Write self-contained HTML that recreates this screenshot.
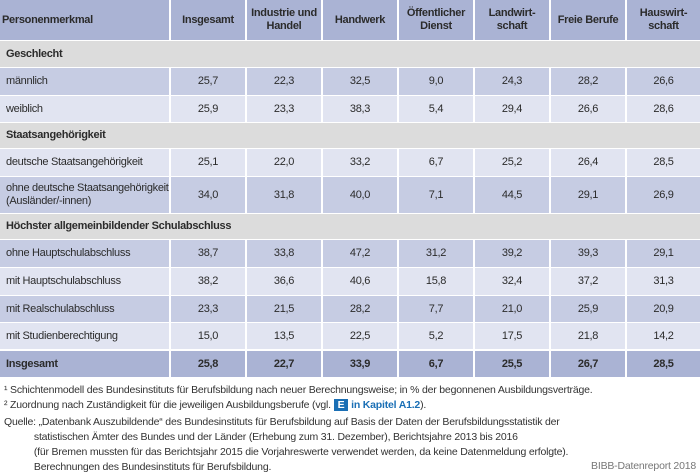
<!DOCTYPE html>
<html><head><meta charset="utf-8">
<style>
body{margin:0;width:700px;height:471px;background:#fff;position:relative;overflow:hidden;font-family:"Liberation Sans Narrow","Liberation Sans",sans-serif;color:#2b2b2b;}
.c{position:absolute;box-sizing:border-box;display:flex;align-items:center;justify-content:center;font-size:11px;line-height:13px;text-align:center;letter-spacing:-0.3px;white-space:nowrap;}
.l{justify-content:flex-start;padding-left:6px;text-align:left;}
.h{background:#aab3d4;font-weight:bold;padding:0 2px;}
.d{background:#c6cce3;}
.lt{background:#e1e4f1;}
.g{background:#dcdcdc;font-weight:bold;}
.t{background:#aab3d4;font-weight:bold;}
.f{position:absolute;left:4px;font-size:10.5px;white-space:nowrap;color:#333;letter-spacing:-0.2px;}
</style></head><body>
<div id="tbl"></div>
<div class="f" style="top:384px">¹ Schichtenmodell des Bundesinstituts für Berufsbildung nach neuer Berechnungsweise; in % der begonnenen Ausbildungsverträge.</div>
<div class="f" style="top:399px">² Zuordnung nach Zuständigkeit für die jeweiligen Ausbildungsberufe (vgl. <span style="background:#1a6fb5;color:#fff;font-weight:bold;padding:0 4px">E</span> <span style="color:#1a6fb5;font-weight:bold">in Kapitel A1.2</span>).</div>
<div class="f" style="top:415px;line-height:15px">Quelle: „Datenbank Auszubildende“ des Bundesinstituts für Berufsbildung auf Basis der Daten der Berufsbildungsstatistik der<br>&nbsp;&nbsp;&nbsp;&nbsp;&nbsp;&nbsp;&nbsp;&nbsp;&nbsp;&nbsp;&nbsp;statistischen Ämter des Bundes und der Länder (Erhebung zum 31. Dezember), Berichtsjahre 2013 bis 2016<br>&nbsp;&nbsp;&nbsp;&nbsp;&nbsp;&nbsp;&nbsp;&nbsp;&nbsp;&nbsp;&nbsp;(für Bremen mussten für das Berichtsjahr 2015 die Vorjahreswerte verwendet werden, da keine Datenmeldung erfolgte).<br>&nbsp;&nbsp;&nbsp;&nbsp;&nbsp;&nbsp;&nbsp;&nbsp;&nbsp;&nbsp;&nbsp;Berechnungen des Bundesinstituts für Berufsbildung.</div>
<div class="f" style="top:460px;left:auto;right:4px;color:#777">BIBB-Datenreport 2018</div>
<script>
const headers=["Personenmerkmal","Insgesamt","Industrie und<br>Handel","Handwerk","Öffentlicher<br>Dienst","Landwirt-<br>schaft","Freie Berufe","Hauswirt-<br>schaft"];
const rowLabels=["Geschlecht","männlich","weiblich","Staatsangehörigkeit","deutsche Staatsangehörigkeit","ohne deutsche Staatsangehörigkeit<br>(Ausländer/-innen)","Höchster allgemeinbildender Schulabschluss","ohne Hauptschulabschluss","mit Hauptschulabschluss","mit Realschulabschluss","mit Studienberechtigung","Insgesamt"];
const rowTypes=["g","d","lt","g","lt","d","g","d","lt","d","lt","t"];
const rowValues=[null,
["25,7","22,3","32,5","9,0","24,3","28,2","26,6"],
["25,9","23,3","38,3","5,4","29,4","26,6","28,6"],
null,
["25,1","22,0","33,2","6,7","25,2","26,4","28,5"],
["34,0","31,8","40,0","7,1","44,5","29,1","26,9"],
null,
["38,7","33,8","47,2","31,2","39,2","39,3","29,1"],
["38,2","36,6","40,6","15,8","32,4","37,2","31,3"],
["23,3","21,5","28,2","7,7","21,0","25,9","20,9"],
["15,0","13,5","22,5","5,2","17,5","21,8","14,2"],
["25,8","22,7","33,9","6,7","25,5","26,7","28,5"]];
const colX=[0,171,247,323,399,475,551,627,700];
const rowY=[[41,67],[68,95],[96,122],[123,148],[149,176],[177,213],[214,239],[240,267],[268,295],[296,322],[323,349],[351,377]];
const tbl=document.getElementById('tbl');
function cell(x,y,w,h,cls,html){const d=document.createElement('div');d.className='c '+cls;d.style.left=x+'px';d.style.top=y+'px';d.style.width=w+'px';d.style.height=h+'px';d.innerHTML=html;tbl.appendChild(d);return d;}
headers.forEach((h,i)=>{const w=colX[i+1]-colX[i]-(i<7?2:0);const d=cell(colX[i],0,w,40,'h'+(i==0?' l':''),h);

});
rowLabels.forEach((lab,r)=>{const [y0,y1]=rowY[r];const t=rowTypes[r];
if(!rowValues[r]){const d=cell(0,y0,700,y1-y0,'g l',lab);

return;}
const d=cell(0,y0,169,y1-y0,t+' l',lab);


rowValues[r].forEach((v,i)=>{const x=colX[i+1];const w=colX[i+2]-x-(i<6?2:0);const c=cell(x,y0,w,y1-y0,t,v);

});});
</script>
</body></html>
